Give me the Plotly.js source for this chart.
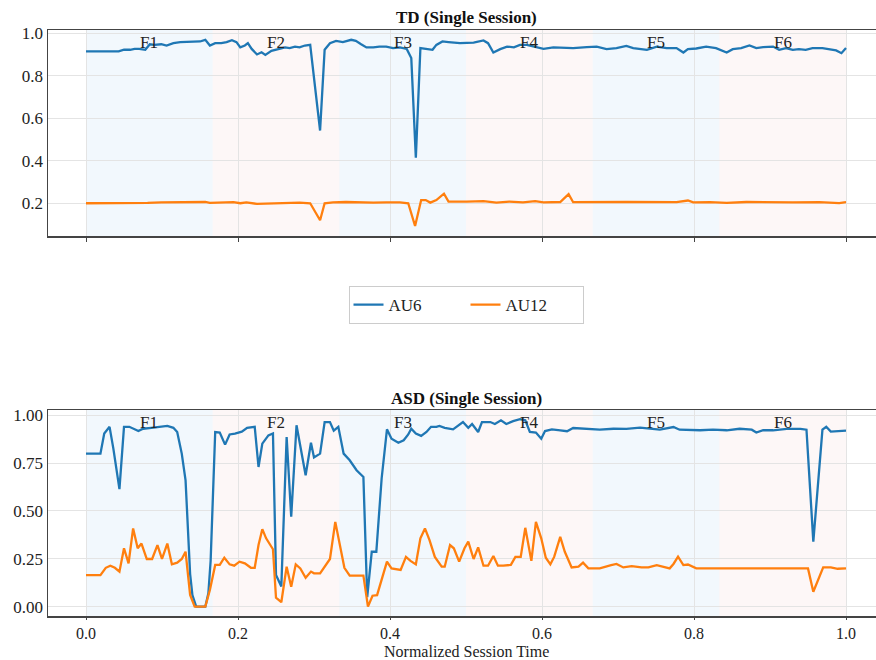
<!DOCTYPE html>
<html>
<head>
<meta charset="utf-8">
<script src="https://cdn.plot.ly/plotly-3.0.1.min.js"></script>
<style>html,body{margin:0;padding:0;background:#fff;}#chart{width:876px;height:660px;}</style>
</head>
<body>
<div id="chart"></div>
<script>
// ---- TD (Single Session) ----
const tdAu6X = [0,0.043,0.050,0.058,0.064,0.070,0.078,0.084,0.090,0.099,0.106,0.115,0.124,0.133,0.141,0.150,0.157,0.163,0.170,0.178,0.185,0.192,0.198,0.203,0.209,0.213,0.218,0.225,0.231,0.236,0.244,0.253,0.262,0.268,0.275,0.281,0.288,0.295,0.308,0.314,0.321,0.329,0.338,0.349,0.355,0.362,0.369,0.378,0.386,0.395,0.404,0.413,0.422,0.428,0.434,0.440,0.448,0.456,0.461,0.469,0.477,0.492,0.510,0.523,0.529,0.536,0.545,0.554,0.563,0.571,0.580,0.589,0.602,0.615,0.628,0.641,0.659,0.672,0.685,0.698,0.711,0.720,0.738,0.751,0.764,0.777,0.786,0.792,0.803,0.816,0.829,0.843,0.851,0.862,0.873,0.882,0.891,0.904,0.912,0.921,0.930,0.938,0.947,0.956,0.969,0.978,0.987,0.994,1.000];
const tdAu6Y = [0.914,0.914,0.922,0.922,0.926,0.926,0.922,0.948,0.945,0.948,0.942,0.953,0.958,0.958,0.961,0.961,0.969,0.942,0.953,0.953,0.958,0.967,0.958,0.933,0.942,0.953,0.926,0.900,0.910,0.898,0.917,0.926,0.933,0.930,0.937,0.933,0.942,0.945,0.542,0.922,0.953,0.964,0.958,0.969,0.964,0.948,0.933,0.933,0.937,0.937,0.930,0.933,0.926,0.883,0.414,0.930,0.926,0.922,0.945,0.961,0.958,0.953,0.956,0.966,0.953,0.909,0.925,0.937,0.933,0.945,0.945,0.937,0.926,0.933,0.933,0.930,0.934,0.937,0.925,0.930,0.940,0.930,0.922,0.937,0.930,0.930,0.909,0.925,0.928,0.937,0.930,0.909,0.925,0.930,0.942,0.930,0.934,0.937,0.922,0.930,0.922,0.925,0.922,0.930,0.930,0.925,0.919,0.906,0.930];
const tdAu12X = [0,0.045,0.081,0.099,0.124,0.157,0.163,0.177,0.194,0.203,0.211,0.225,0.238,0.264,0.281,0.295,0.308,0.314,0.325,0.342,0.360,0.378,0.395,0.413,0.424,0.433,0.441,0.447,0.453,0.461,0.471,0.477,0.501,0.523,0.540,0.557,0.575,0.591,0.602,0.624,0.635,0.641,0.711,0.742,0.777,0.792,0.799,0.821,0.843,0.869,0.895,0.930,0.965,0.991,1.000];
const tdAu12Y = [0.200,0.200,0.202,0.204,0.205,0.206,0.202,0.203,0.205,0.200,0.204,0.197,0.198,0.203,0.203,0.200,0.120,0.200,0.204,0.206,0.204,0.203,0.204,0.204,0.200,0.093,0.215,0.215,0.203,0.215,0.245,0.208,0.208,0.210,0.203,0.208,0.204,0.210,0.204,0.206,0.243,0.205,0.206,0.204,0.205,0.213,0.204,0.205,0.202,0.206,0.204,0.204,0.205,0.201,0.205];

// ---- ASD (Single Session) ----
const asdAu6X = [0,0.019,0.024,0.031,0.036,0.044,0.050,0.057,0.069,0.075,0.086,0.097,0.107,0.115,0.120,0.126,0.131,0.137,0.140,0.145,0.157,0.161,0.164,0.170,0.176,0.183,0.189,0.196,0.205,0.212,0.219,0.222,0.227,0.232,0.240,0.246,0.250,0.257,0.264,0.270,0.277,0.283,0.289,0.296,0.300,0.308,0.314,0.321,0.326,0.332,0.339,0.347,0.356,0.365,0.370,0.376,0.382,0.389,0.396,0.402,0.411,0.418,0.424,0.428,0.434,0.441,0.448,0.454,0.461,0.465,0.472,0.483,0.496,0.503,0.508,0.516,0.521,0.532,0.538,0.546,0.553,0.562,0.571,0.578,0.584,0.592,0.599,0.604,0.613,0.624,0.633,0.641,0.659,0.676,0.694,0.711,0.729,0.746,0.755,0.773,0.781,0.808,0.825,0.843,0.860,0.876,0.882,0.891,0.904,0.922,0.940,0.948,0.957,0.969,0.974,0.980,1.000];
const asdAu6Y = [0.80,0.80,0.905,0.94,0.826,0.614,0.94,0.94,0.918,0.93,0.935,0.94,0.945,0.935,0.913,0.80,0.66,0.17,0.06,0.0,0.0,0.07,0.24,0.913,0.91,0.847,0.90,0.905,0.915,0.935,0.94,0.94,0.73,0.852,0.895,0.905,0.165,0.105,0.887,0.47,0.948,0.826,0.687,0.857,0.78,0.80,0.965,0.965,0.92,0.94,0.80,0.765,0.713,0.678,0.05,0.287,0.287,0.67,0.927,0.878,0.857,0.87,0.90,0.93,0.905,0.893,0.913,0.94,0.94,0.945,0.935,0.927,0.965,0.935,0.955,0.913,0.965,0.965,0.955,0.974,0.955,0.97,0.98,0.974,0.913,0.91,0.878,0.918,0.927,0.922,0.917,0.934,0.929,0.925,0.930,0.929,0.936,0.930,0.925,0.939,0.925,0.922,0.925,0.922,0.930,0.925,0.910,0.922,0.922,0.929,0.929,0.925,0.34,0.925,0.94,0.915,0.92];
const asdAu12X = [0,0.019,0.026,0.032,0.038,0.044,0.050,0.056,0.062,0.068,0.073,0.080,0.087,0.094,0.100,0.107,0.113,0.120,0.126,0.131,0.137,0.143,0.157,0.163,0.170,0.176,0.182,0.189,0.195,0.202,0.209,0.217,0.222,0.227,0.232,0.237,0.246,0.250,0.257,0.264,0.270,0.276,0.282,0.289,0.296,0.300,0.308,0.314,0.321,0.328,0.334,0.340,0.347,0.356,0.365,0.371,0.377,0.383,0.389,0.396,0.402,0.410,0.414,0.421,0.427,0.434,0.440,0.446,0.452,0.459,0.468,0.472,0.479,0.484,0.491,0.498,0.503,0.510,0.516,0.523,0.529,0.536,0.542,0.549,0.559,0.565,0.572,0.578,0.586,0.592,0.599,0.605,0.611,0.616,0.624,0.630,0.639,0.648,0.654,0.661,0.676,0.691,0.698,0.707,0.718,0.731,0.740,0.751,0.760,0.768,0.773,0.779,0.786,0.792,0.803,0.820,0.842,0.860,0.882,0.904,0.930,0.950,0.957,0.970,0.980,0.989,1.000];
const asdAu12Y = [0.165,0.165,0.203,0.214,0.203,0.183,0.305,0.226,0.409,0.305,0.33,0.249,0.249,0.322,0.25,0.33,0.221,0.23,0.249,0.287,0.061,0.0,0.0,0.087,0.218,0.218,0.256,0.221,0.214,0.235,0.226,0.203,0.203,0.322,0.405,0.357,0.30,0.047,0.023,0.209,0.104,0.221,0.20,0.151,0.183,0.174,0.174,0.209,0.249,0.443,0.322,0.203,0.162,0.162,0.162,0.0,0.057,0.06,0.139,0.235,0.20,0.192,0.192,0.26,0.239,0.221,0.357,0.409,0.348,0.26,0.209,0.209,0.322,0.305,0.235,0.305,0.34,0.249,0.31,0.214,0.214,0.265,0.214,0.214,0.218,0.26,0.26,0.412,0.239,0.443,0.357,0.256,0.221,0.26,0.365,0.287,0.205,0.209,0.23,0.20,0.20,0.217,0.223,0.205,0.212,0.205,0.205,0.217,0.209,0.20,0.223,0.261,0.217,0.22,0.20,0.20,0.20,0.20,0.197,0.20,0.20,0.20,0.078,0.205,0.205,0.198,0.20];

// ---- labels / ticks ----
const seriesNames = ["AU6", "AU12"];
const segmentLabels = ["F1", "F2", "F3", "F4", "F5", "F6"];
const segmentEdges = [0, 1/6, 2/6, 3/6, 4/6, 5/6, 1];
const xTickVals = [0, 0.2, 0.4, 0.6, 0.8, 1.0];
const xTickText = ["0.0", "0.2", "0.4", "0.6", "0.8", "1.0"];
const tdYTickVals = [0.2, 0.4, 0.6, 0.8, 1.0];
const tdYTickText = ["0.2", "0.4", "0.6", "0.8", "1.0"];
const asdYTickVals = [0, 0.25, 0.5, 0.75, 1.0];
const asdYTickText = ["0.00", "0.25", "0.50", "0.75", "1.00"];
const panelTitles = ["TD (Single Session)", "ASD (Single Session)"];
const xAxisLabel = "Normalized Session Time";

const BLUE = "#1f77b4", ORANGE = "#ff7f0e";
const FONT = "Liberation Serif";
const bandColors = ["rgba(215,234,248,0.32)", "rgba(248,222,222,0.25)"];

const traces = [
  {x: tdAu6X, y: tdAu6Y, xaxis: "x", yaxis: "y", name: seriesNames[0], mode: "lines", line: {color: BLUE, width: 2.3}, legendgroup: "a"},
  {x: tdAu12X, y: tdAu12Y, xaxis: "x", yaxis: "y", name: seriesNames[1], mode: "lines", line: {color: ORANGE, width: 2.3}, legendgroup: "b"},
  {x: asdAu6X, y: asdAu6Y, xaxis: "x2", yaxis: "y2", name: seriesNames[0], mode: "lines", line: {color: BLUE, width: 2.3}, showlegend: false, legendgroup: "a"},
  {x: asdAu12X, y: asdAu12Y, xaxis: "x2", yaxis: "y2", name: seriesNames[1], mode: "lines", line: {color: ORANGE, width: 2.3}, showlegend: false, legendgroup: "b"}
];

const shapes = [];
const annotations = [];
[["x", "y"], ["x2", "y2"]].forEach(([xa, ya]) => {
  for (let i = 0; i < segmentLabels.length; i++) {
    shapes.push({type: "rect", xref: xa, yref: ya + " domain", x0: segmentEdges[i], x1: segmentEdges[i + 1], y0: 0, y1: 1,
      fillcolor: bandColors[i % 2], line: {width: 0}, layer: "below"});
    annotations.push({xref: xa, yref: ya + " domain", x: (segmentEdges[i] + segmentEdges[i + 1]) / 2, y: 0.94,
      text: segmentLabels[i], showarrow: false, font: {family: FONT, size: 17, color: "#222"}, xanchor: "center", yanchor: "middle"});
  }
});
const W = 876, H = 660, L = 48;
const cx = (466 - L) / (W - L);
annotations.push({xref: "paper", yref: "paper", x: cx, y: 1 - 18 / H, text: "<b>" + panelTitles[0] + "</b>", showarrow: false,
  font: {family: FONT, size: 17, color: "#111"}, xanchor: "center", yanchor: "middle"});
annotations.push({xref: "paper", yref: "paper", x: cx, y: 1 - 398 / H, text: "<b>" + panelTitles[1] + "</b>", showarrow: false,
  font: {family: FONT, size: 17, color: "#111"}, xanchor: "center", yanchor: "middle"});
annotations.push({xref: "paper", yref: "paper", x: cx, y: 0, text: xAxisLabel, showarrow: false,
  font: {family: FONT, size: 16, color: "#222"}, xanchor: "center", yanchor: "bottom", yshift: -2});

const gridColor = "#e4e4e4";
const axisCommon = {showline: true, mirror: true, linecolor: "#444", linewidth: 1.5, showgrid: true, gridcolor: gridColor, gridwidth: 1,
  zeroline: false, tickfont: {family: FONT, size: 17, color: "#222"}};
const xRange = [-0.05, -0.05 + (W - L) / 760];

const layout = {
  width: W, height: H,
  margin: {l: L, r: 0, t: 0, b: 0},
  paper_bgcolor: "#fff", plot_bgcolor: "#fff",
  font: {family: FONT, size: 17, color: "#222"},
  xaxis: Object.assign({}, axisCommon, {domain: [0, 1], anchor: "y", range: xRange, tickvals: xTickVals, ticktext: xTickText,
    showticklabels: false, ticks: "outside", ticklen: 4, tickcolor: "#444"}),
  yaxis: Object.assign({}, axisCommon, {domain: [1 - 236 / H, 1 - 30 / H], anchor: "x", range: [0.046, 1.015],
    tickvals: tdYTickVals, ticktext: tdYTickText, ticks: "", ticklen: 0}),
  xaxis2: Object.assign({}, axisCommon, {domain: [0, 1], anchor: "y2", range: xRange, tickvals: xTickVals, ticktext: xTickText,
    ticks: "outside", ticklen: 2, tickcolor: "#444", tickfont: {family: FONT, size: 16, color: "#222"}}),
  yaxis2: Object.assign({}, axisCommon, {domain: [1 - 616 / H, 1 - 410 / H], anchor: "x2", range: [-0.049, 1.028],
    tickvals: asdYTickVals, ticktext: asdYTickText, ticks: "", ticklen: 0}),
  showlegend: true,
  legend: {orientation: "h", x: cx, xanchor: "center", y: 1 - 305 / H, yanchor: "middle", entrywidth: 72, entrywidthmode: "pixels",
    bordercolor: "#cccccc", borderwidth: 1, bgcolor: "#fff", font: {family: FONT, size: 17, color: "#222"}},
  shapes: shapes,
  annotations: annotations
};

Plotly.newPlot("chart", traces, layout, {displayModeBar: false, staticPlot: true});
</script>
</body>
</html>
